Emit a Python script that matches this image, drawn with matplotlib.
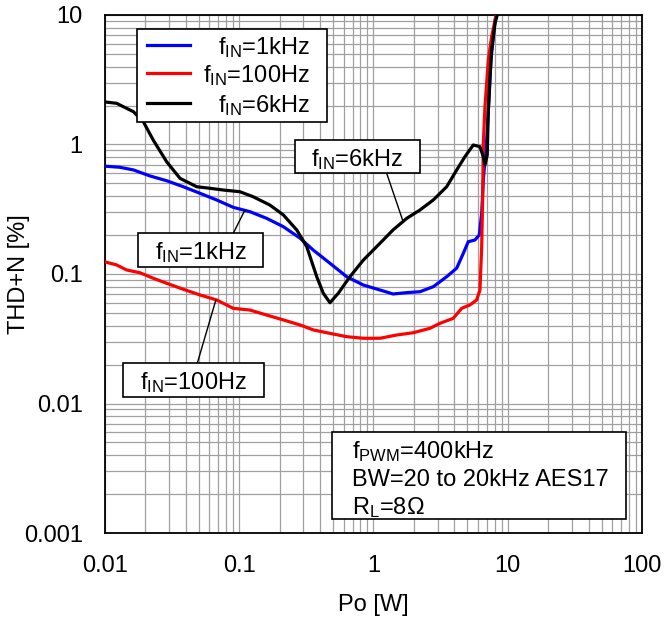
import numpy as np
import matplotlib
matplotlib.use("Agg")
import matplotlib.pyplot as plt
from matplotlib.patches import Rectangle
from matplotlib.lines import Line2D
from matplotlib.ticker import LogLocator, NullFormatter

plt.rcParams['font.family'] = ['Liberation Sans', 'DejaVu Sans']
plt.rcParams['mathtext.fontset'] = 'custom'
plt.rcParams['mathtext.rm'] = 'Liberation Sans'
plt.rcParams['mathtext.it'] = 'Liberation Sans:italic'
plt.rcParams['font.size'] = 17

# THD+N vs output power, fIN = 1kHz
po_1k = [0.01, 0.0129, 0.0163, 0.0216, 0.0288, 0.0383, 0.051, 0.0679, 0.0903, 0.120,
         0.160, 0.213, 0.284, 0.356, 0.474, 0.632, 0.840, 1.12, 1.40, 1.77,
         2.22, 2.79, 3.51, 4.17, 4.67, 5.08, 5.70, 6.14, 6.40, 6.58,
         6.97, 7.25, 7.50, 7.90, 8.17]
thd_1k = [0.68, 0.667, 0.636, 0.572, 0.525, 0.472, 0.420, 0.373, 0.327, 0.303,
          0.269, 0.232, 0.189, 0.153, 0.121, 0.0953, 0.0822, 0.0752, 0.0701, 0.0718,
          0.0730, 0.0798, 0.0953, 0.111, 0.1445, 0.1775, 0.183, 0.200, 0.294, 0.532,
          1.08, 2.21, 4.50, 7.66, 10.0]

# fIN = 100Hz
po_100 = [0.01, 0.0122, 0.0145, 0.0182, 0.0229, 0.0288, 0.0383, 0.051, 0.0679, 0.0903,
          0.120, 0.160, 0.213, 0.284, 0.356, 0.474, 0.632, 0.840, 1.12, 1.49,
          1.98, 2.64, 3.13, 3.93, 4.54, 5.23, 5.87, 6.21, 6.40, 6.51,
          6.58, 6.77, 7.17, 7.59, 8.2]
thd_100 = [0.124, 0.1175, 0.1074, 0.1023, 0.0927, 0.0848, 0.0762, 0.0689, 0.0630, 0.0543,
           0.0527, 0.0482, 0.0442, 0.0404, 0.0370, 0.0348, 0.0328, 0.0319, 0.0319, 0.0338,
           0.0352, 0.0381, 0.0416, 0.0455, 0.0543, 0.0577, 0.0630, 0.0752, 0.163, 0.395,
           1.02, 1.96, 4.50, 6.80, 10.0]

# fIN = 6kHz
po_6k = [0.01, 0.0122, 0.0163, 0.0193, 0.0229, 0.0288, 0.0362, 0.0482, 0.0605, 0.076,
         0.101, 0.127, 0.169, 0.213, 0.268, 0.318, 0.378, 0.423, 0.474, 0.547,
         0.668, 0.840, 1.12, 1.40, 1.77, 2.22, 2.79, 3.51, 4.17, 4.80,
         5.54, 6.21, 6.58, 6.77, 7.04, 7.17, 7.38, 7.59, 8.04, 8.36]
thd_6k = [2.13, 2.08, 1.79, 1.50, 1.08, 0.736, 0.548, 0.472, 0.459, 0.445,
          0.432, 0.395, 0.341, 0.286, 0.219, 0.163, 0.0953, 0.0710, 0.0600, 0.0710,
          0.0953, 0.128, 0.173, 0.219, 0.269, 0.312, 0.373, 0.472, 0.636, 0.805,
          0.991, 0.962, 0.805, 0.695, 0.83, 1.85, 3.34, 5.37, 8.63, 10.0]

x_ticks = [0.01, 0.1, 1, 10, 100]
x_ticklabels = ['0.01', '0.1', '1', '10', '100']
y_ticks = [0.001, 0.01, 0.1, 1, 10]
y_ticklabels = ['0.001', '0.01', '0.1', '1', '10']

series = [
    (po_1k, thd_1k, '#0000ff', r'f$_{\rm IN}$=1kHz'),
    (po_100, thd_100, '#ff0000', r'f$_{\rm IN}$=100Hz'),
    (po_6k, thd_6k, '#000000', r'f$_{\rm IN}$=6kHz'),
]

fig = plt.figure(figsize=(6.64, 6.27), dpi=100)
ax = fig.add_axes([0.1581, 0.1499, 0.8087, 0.8262])

for xs, ys, col, lab in series:
    ax.plot(xs, ys, color=col, lw=2.3, solid_joinstyle='round', zorder=3)

ax.set_xscale('log')
ax.set_yscale('log')
ax.set_xlim(0.01, 100)
ax.set_ylim(0.001, 10)
ax.set_xticks(x_ticks)
ax.set_xticklabels(x_ticklabels)
ax.set_yticks(y_ticks)
ax.set_yticklabels(y_ticklabels)
for axis in (ax.xaxis, ax.yaxis):
    axis.set_minor_locator(LogLocator(base=10, subs=np.arange(2, 10), numticks=20))
    axis.set_minor_formatter(NullFormatter())
ax.tick_params(which='both', length=0)
ax.tick_params(axis='x', pad=16)
ax.tick_params(axis='y', pad=16)

ax.grid(True, which='both', color='#a0a0a0', lw=0.9)
ax.set_axisbelow(True)
for sp in ax.spines.values():
    sp.set_linewidth(1.3)
    sp.set_color('black')

ax.set_xlabel('Po [W]')
ax.set_ylabel('THD+N [%]')
ax.xaxis.set_label_coords(0.5, -0.117)
ax.yaxis.set_label_coords(-0.14, 0.5)

# legend, drawn by hand so the labels line up on the right
ax.add_patch(Rectangle((0.059, 0.794), 0.3538, 0.1784, transform=ax.transAxes,
                       facecolor='white', edgecolor='black', lw=1.2, zorder=5))
legend_y = [0.942, 0.8875, 0.8295]
for (xs, ys, col, lab), ly in zip(series, legend_y):
    ax.add_line(Line2D([0.0777, 0.1583], [ly, ly], transform=ax.transAxes,
                       color=col, lw=2.3, zorder=6))
    ax.text(0.3817, ly - 0.0175, lab, transform=ax.transAxes,
            ha='right', va='baseline', zorder=6)

# labelled call-outs pointing at each curve
callouts = [
    (r'f$_{\rm IN}$=6kHz', (0.3538, 0.6944, 0.2328, 0.0643), (1.65, 0.26), (0.5246, 0.6944)),
    (r'f$_{\rm IN}$=1kHz', (0.062, 0.5141, 0.2328, 0.0645), (0.11, 0.31), (0.2389, 0.5786)),
    (r'f$_{\rm IN}$=100Hz', (0.0341, 0.2631, 0.262, 0.0645), (0.067, 0.063), (0.1719, 0.3276)),
]
for txt, (bx, by, bw, bh), target, start in callouts:
    ax.add_patch(Rectangle((bx, by), bw, bh, transform=ax.transAxes,
                           facecolor='white', edgecolor='black', lw=1.2, zorder=5))
    ax.text(bx + bw / 2, by + 0.0143, txt, transform=ax.transAxes,
            ha='center', va='baseline', zorder=6)
    ax.annotate('', xy=target, xycoords='data', xytext=start, textcoords='axes fraction',
                arrowprops=dict(arrowstyle='-', color='black', lw=1.0,
                                shrinkA=0, shrinkB=0), zorder=4)

# test conditions
ax.add_patch(Rectangle((0.4222, 0.0264), 0.548, 0.1692, transform=ax.transAxes,
                       facecolor='white', edgecolor='black', lw=1.2, zorder=5))
conditions = [r'f$_{\rm PWM}$=400kHz', 'BW=20 to 20kHz AES17', r'R$_{\rm L}$=8Ω']
for txt, ty in zip(conditions, [0.1448, 0.0907, 0.0367]):
    ax.text(0.4598, ty, txt, transform=ax.transAxes, ha='left', va='baseline', zorder=6)

fig.savefig('out.png', dpi=100)
